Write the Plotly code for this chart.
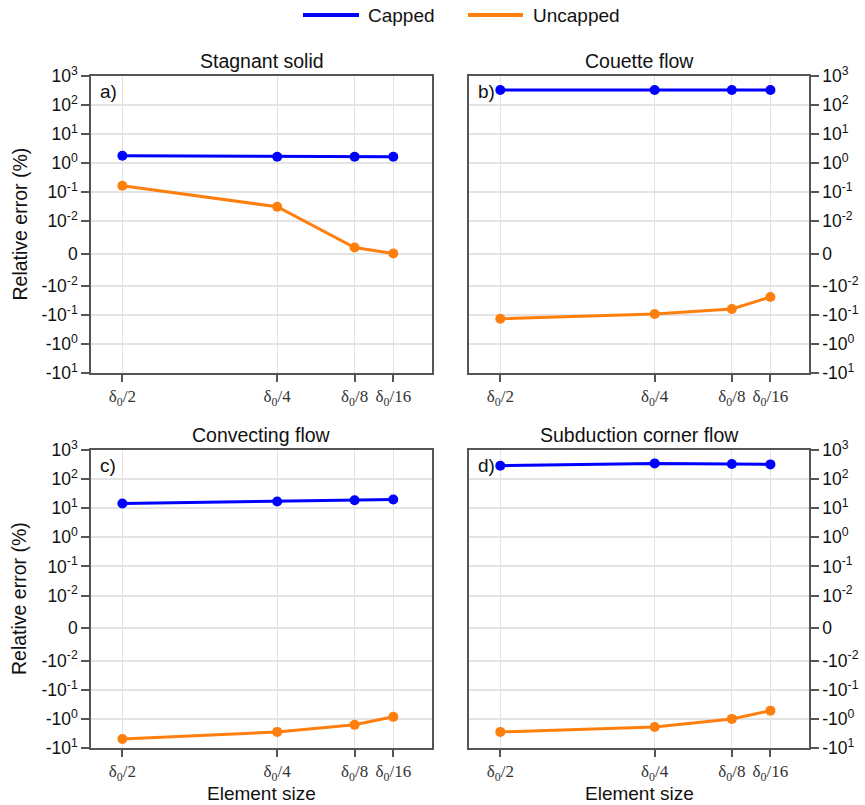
import math
import plotly.graph_objects as go

# ---------------- data ----------------
element_sizes = [1/2, 1/4, 1/8, 1/16]          # in units of delta_0
size_labels = ["δ<sub>0</sub>/2", "δ<sub>0</sub>/4", "δ<sub>0</sub>/8", "δ<sub>0</sub>/16"]

panel_titles = ["Stagnant solid", "Couette flow", "Convecting flow", "Subduction corner flow"]
panel_tags = ["a)", "b)", "c)", "d)"]

capped_stagnant = [1.78, 1.65, 1.65, 1.65]
uncapped_stagnant = [0.165, 0.031, 0.00185, 0.0]

capped_couette = [330, 330, 330, 330]
uncapped_couette = [-0.134, -0.092, -0.062, -0.024]

capped_convecting = [14.5, 16.9, 18.7, 19.8]
uncapped_convecting = [-4.9, -2.8, -1.6, -0.85]

capped_subduction = [288, 347, 329, 320]
uncapped_subduction = [-2.8, -1.89, -1.0, -0.52]

pos_exponents = [3, 2, 1, 0, -1, -2]
neg_exponents = [-2, -1, 0, 1]

# ---------------- symmetric-log transform ----------------
LINTHRESH = 0.01
LINSCALE = 1.12


def symlog(v):
    if abs(v) >= LINTHRESH:
        return math.copysign(math.log10(abs(v)) - math.log10(LINTHRESH) + LINSCALE, v)
    return v / LINTHRESH * LINSCALE


tickvals, ticktext = [], []
for e in pos_exponents:
    tickvals.append(symlog(10.0 ** e))
    ticktext.append(f"10<sup>{e}</sup>")
tickvals.append(0.0)
ticktext.append("0")
for e in neg_exponents:
    tickvals.append(symlog(-(10.0 ** e)))
    ticktext.append(f"-10<sup>{e}</sup>")

y_lo = symlog(-(10.0 ** max(neg_exponents)))
y_hi = symlog(10.0 ** max(pos_exponents))

BLUE = "#0000ff"
ORANGE = "#ff7f0e"
SANS = "Liberation Sans, Arial, sans-serif"
SERIF = "Liberation Serif, Times New Roman, serif"
FRAME = "#555555"
GRID = "#e3e3e3"
TXT = "#111111"

W, H = 865, 805
# plot-area pixel boxes (left, right, top, bottom)
boxes = [(91, 432, 76, 373), (469, 809, 76, 373), (91, 432, 450, 748), (469, 809, 450, 748)]

series = [
    (capped_stagnant, uncapped_stagnant),
    (capped_couette, uncapped_couette),
    (capped_convecting, uncapped_convecting),
    (capped_subduction, uncapped_subduction),
]

fig = go.Figure()
annotations = []
shapes = []

for i, ((cap, unc), box) in enumerate(zip(series, boxes)):
    n = i + 1
    xa = "x" if n == 1 else f"x{n}"
    ya = "y" if n == 1 else f"y{n}"
    l, r, t, b = box
    xdom = [l / W, r / W]
    ydom = [1 - b / H, 1 - t / H]
    right_side = i in (1, 3)

    fig.add_trace(go.Scatter(
        x=element_sizes, y=[symlog(v) for v in cap], xaxis=xa, yaxis=ya,
        mode="lines+markers", name="Capped", showlegend=False,
        line=dict(color=BLUE, width=3), marker=dict(color=BLUE, size=10)))
    fig.add_trace(go.Scatter(
        x=element_sizes, y=[symlog(v) for v in unc], xaxis=xa, yaxis=ya,
        mode="lines+markers", name="Uncapped", showlegend=False,
        line=dict(color=ORANGE, width=3), marker=dict(color=ORANGE, size=10)))

    xkey = "xaxis" if n == 1 else f"xaxis{n}"
    ykey = "yaxis" if n == 1 else f"yaxis{n}"
    fig.update_layout({
        xkey: dict(
            domain=xdom, anchor=ya, range=[0.5507, 0.0],
            tickvals=element_sizes, ticktext=size_labels,
            tickfont=dict(family=SERIF, size=17, color="#333333"),
            ticks="outside", ticklen=7, tickwidth=1.5, tickcolor=FRAME,
            showgrid=True, gridcolor=GRID, gridwidth=1,
            showline=True, linecolor=FRAME, linewidth=1.5, mirror=True,
            zeroline=False, fixedrange=True, automargin=False),
        ykey: dict(
            domain=ydom, anchor=xa, range=[y_lo, y_hi],
            side="right" if right_side else "left",
            tickvals=tickvals, ticktext=ticktext,
            tickfont=dict(family=SANS, size=17.5, color=TXT),
            ticks="outside", ticklen=8, tickwidth=1.5, tickcolor=FRAME,
            showgrid=True, gridcolor=GRID, gridwidth=1.5,
            showline=True, linecolor=FRAME, linewidth=1.5, mirror=True,
            zeroline=False, fixedrange=True, automargin=False),
    })

    # subplot title
    annotations.append(dict(
        text=panel_titles[i], xref=f"{xa} domain", yref=f"{ya} domain",
        x=0.5, y=1, yshift=15, xanchor="center", yanchor="middle",
        showarrow=False, font=dict(family=SANS, size=19.5, color=TXT)))
    # panel tag
    annotations.append(dict(
        text=panel_tags[i], xref=f"{xa} domain", yref=f"{ya} domain",
        x=0, y=1, xshift=7, yshift=-16, xanchor="left", yanchor="middle",
        showarrow=False, font=dict(family=SANS, size=19, color=TXT)))
    # y-axis title (left column)
    if not right_side:
        annotations.append(dict(
            text="Relative error (%)", xref="paper", yref=f"{ya} domain",
            x=19 / W, y=0.5, xanchor="center", yanchor="middle", textangle=-90,
            showarrow=False, font=dict(family=SANS, size=19.5, color=TXT)))
    # x-axis title (bottom row)
    if i >= 2:
        annotations.append(dict(
            text="Element size", xref=f"{xa} domain", yref="paper",
            x=0.5, y=1 - 793 / H, xanchor="center", yanchor="middle",
            showarrow=False, font=dict(family=SANS, size=19, color=TXT)))

# legend drawn at the top centre
legend_items = [("Capped", BLUE, 303, 359, 366), ("Uncapped", ORANGE, 468, 523, 531)]
for name, col, x0, x1, xt in legend_items:
    shapes.append(dict(type="line", xref="paper", yref="paper",
                       x0=x0 / W, x1=x1 / W, y0=1 - 15 / H, y1=1 - 15 / H,
                       line=dict(color=col, width=4)))
    annotations.append(dict(text=name, xref="paper", yref="paper",
                            x=xt / W, y=1 - 15 / H, xanchor="left", yanchor="middle",
                            showarrow=False, font=dict(family=SANS, size=19, color=TXT)))

fig.update_layout(
    width=W, height=H,
    margin=dict(l=0, r=0, t=0, b=0, pad=0, autoexpand=False),
    paper_bgcolor="white", plot_bgcolor="white",
    showlegend=False,
    annotations=annotations, shapes=shapes,
    font=dict(family=SANS, size=17, color=TXT),
)

fig.write_html(
    "out.html",
    config={"displayModeBar": False},
    post_script="document.body.style.margin='0';document.body.style.padding='0';"
                "document.body.style.overflow='hidden';",
)
